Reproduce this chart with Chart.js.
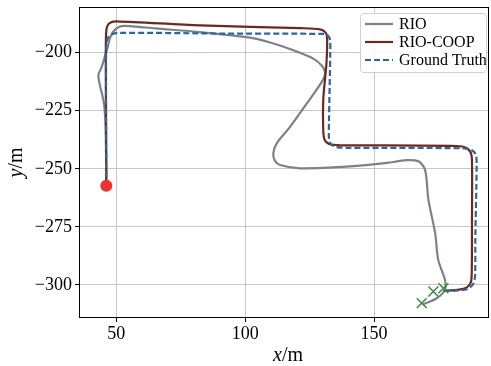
<!DOCTYPE html>
<html>
<head>
<meta charset="utf-8">
<script src="https://cdn.jsdelivr.net/npm/chart.js@4.4.1/dist/chart.umd.min.js"></script>
<style>
  html, body { margin: 0; padding: 0; background: #fff; overflow: hidden; }
  #wrap { width: 491px; height: 366px; }
</style>
</head>
<body>
<div id="wrap"><canvas id="grafico"></canvas></div>
<script>
// Trayectorias (x, y en metros)
const rioX = [46.1, 46, 45.8, 45.2, 43, 44.3, 46.3, 48.2, 51.4, 55, 65, 82.5, 101.9, 110, 118.7, 126.4, 130, 131, 129.7, 123.9, 117.4, 112.2, 110.9, 111.5, 113.5, 121.3, 140.7, 155, 162.5, 167.2, 169.8, 171.1, 173.7, 174.9, 177.5, 177.5, 174.3, 169.1];
const rioY = [-257.3, -245, -232, -222, -210, -206.2, -199, -192, -188.8, -188.6, -189.6, -191.2, -193.6, -195.8, -199, -202.6, -206, -209, -212.6, -221.9, -232, -239.1, -243.4, -246.5, -248.4, -249.8, -249, -247.5, -246.3, -246.8, -250.5, -263.4, -277.7, -289.2, -297.8, -302.1, -305.7, -308.3];

const coopX = [46.1, 46, 45.9, 46, 46.5, 48, 50, 82.5, 121.3, 129, 131.3, 131.8, 131.5, 130.3, 130.3, 130.8, 132.5, 135.5, 140, 182, 185.5, 187.5, 188, 188, 187.9, 187.5, 186, 183, 177];
const coopY = [-257.3, -230, -205, -192, -188.5, -187, -186.6, -188.3, -189.5, -190, -191.5, -194, -205, -220, -234, -237.5, -239.3, -239.8, -239.9, -240.2, -240.8, -243, -247, -270, -295, -299, -301, -302, -302.5];

const gtX = [46.1, 46, 46, 46.1, 46.8, 48.5, 51, 90, 130, 132, 132.9, 133, 132.5, 132.5, 133.3, 135.5, 140, 185, 188, 189.5, 189.8, 189.3, 189.2, 188.5, 186.5, 183, 176.3];
const gtY = [-257.3, -230, -205, -197, -193.5, -192, -191.5, -191.8, -192, -192.6, -194.5, -200, -230, -237, -239.5, -240.7, -241, -241.2, -242, -244, -248, -280, -296, -299.5, -301.6, -302.3, -302.4];

const inicio = [46.1, -257.3];
const finX = [168.5, 173, 176.9];
const finY = [-307.8, -302.8, -301.4];

const etiquetas = ['RIO', 'RIO-COOP', 'Ground Truth'];
const ticksX = [50, 100, 150];
const ticksY = [-300, -275, -250, -225, -200];

const colores = ['#7d818a', '#6b2a1f', '#2f6597'];
const SERIF = '"Liberation Serif", "DejaVu Serif", serif';

const puntos = (xs, ys) => xs.map((x, i) => ({ x: x, y: ys[i] }));
const menos = v => String(v).replace('-', '\u2212');

// sin relleno extra para las etiquetas de los extremos
const sinRelleno = s => {
    s.paddingTop = 0;
    s.paddingBottom = 0;
    s.paddingLeft = 0;
    s.paddingRight = 0;
};

// marco, leyenda y titulos de ejes
const decorado = {
    id: 'decorado',
    afterDraw(chart) {
        const ctx = chart.ctx;
        const a = chart.chartArea;
        ctx.save();
        ctx.strokeStyle = '#000';
        ctx.lineWidth = 1;
        ctx.strokeRect(a.left + 0.5, a.top + 0.5, a.right - a.left - 1, a.bottom - a.top - 1);

        // leyenda
        const bx = 360, by = 13, bw = 126, bh = 59;
        ctx.fillStyle = 'rgba(255,255,255,0.85)';
        ctx.strokeStyle = '#d0d0d0';
        ctx.beginPath();
        ctx.roundRect(bx + 0.5, by + 0.5, bw, bh, 3);
        ctx.fill();
        ctx.stroke();
        ctx.font = '16px ' + SERIF;
        ctx.textBaseline = 'middle';
        etiquetas.forEach((txt, i) => {
            const y = 24 + i * 18;
            ctx.strokeStyle = colores[i];
            ctx.lineWidth = 2.2;
            ctx.setLineDash(i === 2 ? [6, 3] : []);
            ctx.beginPath();
            ctx.moveTo(365, y);
            ctx.lineTo(393, y);
            ctx.stroke();
            ctx.setLineDash([]);
            ctx.fillStyle = '#000';
            ctx.fillText(txt, 399, y + 1);
        });

        // titulos de ejes
        ctx.font = 'italic 20px ' + SERIF;
        ctx.textBaseline = 'alphabetic';
        const wx = ctx.measureText('x').width;
        ctx.font = '20px ' + SERIF;
        const wm = ctx.measureText('/m').width;
        let x0 = (a.left + a.right) / 2 + 4 - (wx + wm) / 2;
        ctx.font = 'italic 20px ' + SERIF;
        ctx.fillText('x', x0, 361);
        ctx.font = '20px ' + SERIF;
        ctx.fillText('/m', x0 + wx, 361);

        ctx.translate(22, (a.top + a.bottom) / 2);
        ctx.rotate(-Math.PI / 2);
        ctx.font = 'italic 20px ' + SERIF;
        const wy = ctx.measureText('y').width;
        x0 = -(wy + wm) / 2;
        ctx.fillText('y', x0, 0);
        ctx.font = '20px ' + SERIF;
        ctx.fillText('/m', x0 + wy, 0);
        ctx.restore();
    }
};

const linea = (datos, color, orden, extra) => Object.assign({
    data: datos,
    showLine: true,
    borderColor: color,
    borderWidth: 2.2,
    pointRadius: 0,
    tension: 0.3,
    fill: false,
    order: orden
}, extra || {});

new Chart(document.getElementById('grafico'), {
    type: 'scatter',
    data: {
        datasets: [
            {
                data: [{ x: inicio[0], y: inicio[1] }],
                pointRadius: 6,
                backgroundColor: '#ee3232',
                borderWidth: 0,
                order: 0
            },
            {
                data: puntos(finX, finY),
                pointStyle: 'crossRot',
                pointRadius: 7,
                borderColor: '#3b8a3b',
                borderWidth: 1.5,
                order: 0
            },
            linea(puntos(gtX, gtY), colores[2], 1, { borderDash: [6, 3] }),
            linea(puntos(coopX, coopY), colores[1], 2),
            linea(puntos(rioX, rioY), colores[0], 3)
        ]
    },
    options: {
        responsive: true,
        maintainAspectRatio: false,
        animation: false,
        layout: { autoPadding: false, padding: { top: 7, right: 2, left: 0, bottom: 0 } },
        plugins: { legend: { display: false }, tooltip: { enabled: false } },
        scales: {
            x: {
                type: 'linear',
                min: 35.5,
                max: 194.6,
                afterBuildTicks: s => { s.ticks = ticksX.map(v => ({ value: v })); },
                afterFit: s => { s.height = 48; sinRelleno(s); },
                grid: { color: '#c6c6c6', tickColor: '#000', tickLength: 4, lineWidth: 1 },
                border: { display: false },
                ticks: { color: '#000', padding: 1, font: { family: SERIF, size: 18 }, callback: menos }
            },
            y: {
                type: 'linear',
                min: -314.2,
                max: -180.4,
                afterBuildTicks: s => { s.ticks = ticksY.map(v => ({ value: v })); },
                afterFit: s => { s.width = 79; sinRelleno(s); },
                grid: { color: '#c6c6c6', tickColor: '#000', tickLength: 4, lineWidth: 1 },
                border: { display: false },
                ticks: { color: '#000', padding: 3, font: { family: SERIF, size: 18 }, callback: menos }
            }
        }
    },
    plugins: [decorado]
});
</script>
</body>
</html>
